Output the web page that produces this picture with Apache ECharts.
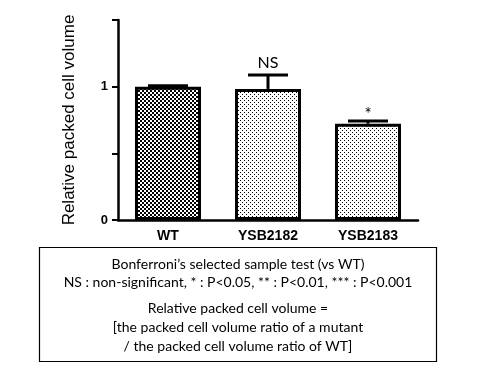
<!DOCTYPE html>
<html><head><meta charset="utf-8">
<script src="https://cdn.jsdelivr.net/npm/echarts@6/dist/echarts.min.js"></script>
<style>html,body{margin:0;padding:0;background:#fff}#c{width:480px;height:370px}</style>
</head><body><div id="c"></div>
<script>
const categories = ['WT', 'YSB2182', 'YSB2183'];
const values = [1.0, 0.983, 0.722];
const errors = [0.006, 0.105, 0.02];
const marks = ['', 'NS', '*'];
const yTickLabels = {0: '0', 1: '1'};
const yAxisName = 'Relative packed cell volume';
const noteLines = [
  'Bonferroni\u2019s selected sample test (vs WT)',
  'NS : non-significant, * : P<0.05, ** : P<0.01, *** : P<0.001',
  'Relative packed cell volume =',
  '[the packed cell volume ratio of a mutant',
  '/ the packed cell volume ratio of WT]'
];

function checker() {
  const c = document.createElement('canvas'); c.width = 4; c.height = 4;
  const g = c.getContext('2d'); g.fillStyle = '#fff'; g.fillRect(0,0,4,4);
  g.fillStyle = '#000'; g.fillRect(0,0,2,2); g.fillRect(2,2,2,2);
  return c;
}
function dots() {
  const c = document.createElement('canvas'); c.width = 4; c.height = 4;
  const g = c.getContext('2d'); g.fillStyle = '#fff'; g.fillRect(0,0,4,4);
  g.fillStyle = '#000'; g.fillRect(0,0,1,1); g.fillRect(2,2,1,1);
  return c;
}
const patterns = [checker(), dots(), dots()];

const chart = echarts.init(document.getElementById('c'), null, {renderer: 'canvas'});
const noteFont = '14px Lato, "Open Sans", sans-serif';
chart.setOption({
  animation: false,
  grid: {left: 118, right: 62, top: 20, bottom: 150},
  xAxis: {
    type: 'category', data: categories,
    axisLine: {lineStyle: {color: '#000', width: 2.5}},
    axisTick: {alignWithLabel: true, length: 6, lineStyle: {color: '#000', width: 2}},
    axisLabel: {color: '#000', fontWeight: 'bold', fontSize: 14, fontFamily: 'Liberation Sans, Arial', margin: 9}
  },
  yAxis: {
    type: 'value', min: 0, max: 1.5, interval: 0.5,
    name: yAxisName, nameLocation: 'middle', nameGap: 40, nameRotate: 90,
    nameTextStyle: {color: '#000', fontSize: 17, fontFamily: 'Liberation Sans, Arial'},
    axisLine: {show: true, lineStyle: {color: '#000', width: 2.5}},
    axisTick: {show: true, length: 6, lineStyle: {color: '#000', width: 2}},
    splitLine: {show: false},
    axisLabel: {color: '#000', fontWeight: 'bold', fontSize: 13, fontFamily: 'Liberation Sans, Arial', margin: 10,
      formatter: v => (yTickLabels[v] !== undefined ? yTickLabels[v] : '')}
  },
  series: [
    {
      type: 'bar', barWidth: 66,
      data: values.map((v, i) => ({value: v, itemStyle: {color: {image: patterns[i], repeat: 'repeat'}}})),
      itemStyle: {borderColor: '#000', borderWidth: 3},
      z: 2
    },
    {
      type: 'custom', z: 3,
      data: values.map((v, i) => [i, v, v + errors[i]]),
      renderItem: function (params, api) {
        const i = api.value(0);
        const base = api.coord([i, api.value(1)]);
        const top = api.coord([i, api.value(2)]);
        const hw = 20;
        const children = [
          {type: 'line', shape: {x1: base[0], y1: base[1], x2: top[0], y2: top[1]}, style: {stroke: '#000', lineWidth: 3}},
          {type: 'line', shape: {x1: top[0] - hw, y1: top[1], x2: top[0] + hw, y2: top[1]}, style: {stroke: '#000', lineWidth: 3}}
        ];
        const m = marks[i];
        if (m) {
          children.push({type: 'text', style: {text: m, x: top[0], y: m === '*' ? top[1] + 2 : top[1] - 4, align: 'center', verticalAlign: 'bottom',
            font: (m === '*' ? '17px' : '16px') + ' Lato, "Open Sans", sans-serif', fill: '#000'}});
        }
        return {type: 'group', children: children};
      }
    }
  ],
  graphic: [
    {type: 'rect', shape: {x: 39.5, y: 247.5, width: 397, height: 114}, style: {fill: 'none', stroke: '#000', lineWidth: 1.2}},
    {type: 'text', style: {text: noteLines[0], x: 238, y: 264, align: 'center', verticalAlign: 'middle', font: noteFont, fill: '#000'}},
    {type: 'text', style: {text: noteLines[1], x: 238, y: 282, align: 'center', verticalAlign: 'middle', font: noteFont, fill: '#000'}},
    {type: 'text', style: {text: noteLines[2], x: 238, y: 308, align: 'center', verticalAlign: 'middle', font: noteFont, fill: '#000'}},
    {type: 'text', style: {text: noteLines[3], x: 238, y: 327, align: 'center', verticalAlign: 'middle', font: noteFont, fill: '#000'}},
    {type: 'text', style: {text: noteLines[4], x: 238, y: 346, align: 'center', verticalAlign: 'middle', font: noteFont, fill: '#000'}}
  ]
});
</script></body></html>
